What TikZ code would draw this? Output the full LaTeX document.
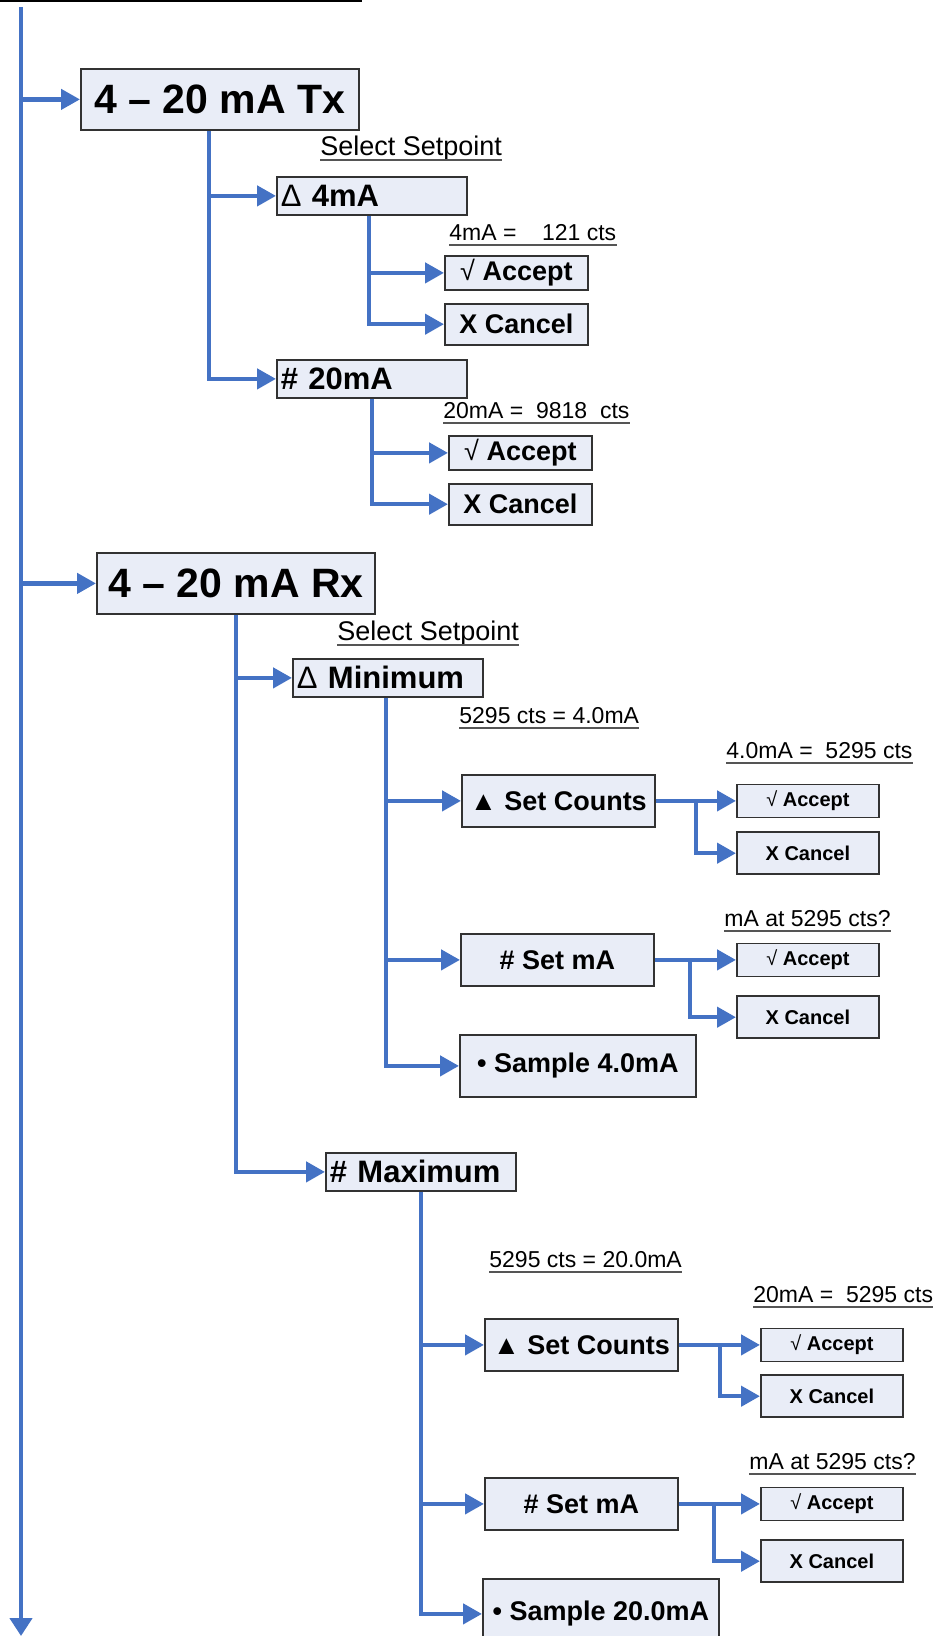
\documentclass[tikz,border=0pt]{standalone}
\usepackage{fontspec}
\setmainfont{Liberation Sans}
\usepackage{xcolor}
\usepackage{tikz}
\usetikzlibrary{arrows.meta,positioning}
\definecolor{flowblue}{RGB}{68,114,196}
\definecolor{menufill}{RGB}{233,237,247}
\definecolor{menuframe}{RGB}{50,50,50}
\definecolor{notegray}{RGB}{85,85,85}

\begin{document}
\begin{tikzpicture}[
  x=0.5pt, y=-0.5pt,
  >={Triangle[length=9.5pt,width=10pt]},
  menu/.style={draw=menuframe, line width=0.9pt, fill=menufill, inner sep=0pt, anchor=north west},
  mode/.style={menu, minimum width=139pt, minimum height=30.5pt, font=\fontsize{20.5}{23}\selectfont\bfseries},
  setpt/.style={menu, text width=91pt, inner xsep=2pt, minimum height=19pt, align=left,
                font=\fontsize{15.5}{18}\selectfont\bfseries},
  okbig/.style={menu, minimum width=71.5pt, minimum height=17pt, font=\fontsize{13.5}{16}\selectfont\bfseries},
  nobig/.style={okbig, minimum height=20.5pt},
  task/.style={menu, minimum width=96.5pt, minimum height=26pt, font=\fontsize{13.5}{16}\selectfont\bfseries},
  sample/.style={task, minimum width=118pt, minimum height=31pt},
  oksmall/.style={menu, minimum width=71pt, minimum height=16.5pt, font=\fontsize{10}{12}\selectfont\bfseries},
  nosmall/.style={oksmall, minimum height=21pt},
  note/.style={inner sep=0pt, text depth=2pt, anchor=south west, font=\fontsize{11.5}{14}\selectfont,
               append after command={(\tikzlastnode.south west) edge[draw=notegray, line width=1pt] (\tikzlastnode.south east)}},
  head/.style={note, font=\fontsize{13.5}{16}\selectfont},
  flow/.style={->, draw=flowblue, line width=2.2pt}]
\useasboundingbox (0,0) rectangle (935,1636);
\draw[line width=1pt] (0,1) -- (362,1);
\coordinate (start) at (21,7);
\coordinate (end) at (21,1636);

\node[mode] (tx) at (80,68) {4 – 20 mA Tx};
\node[setpt] (d4) at (276,176) {{\mdseries Δ} 4mA};
\node[head, above=8pt of d4.north west, anchor=south west, xshift=22pt] (sel1) {Select Setpoint};
\node[okbig] (ok1) at (444,255) {{\mdseries √} Accept};
\node[nobig, below=6pt of ok1.south west, anchor=north west] (no1) {X Cancel};
\node[note, above=5pt of ok1.north west, anchor=south west, xshift=2.5pt] (cts1) {4mA =\ \ \ \ 121 cts};
\node[setpt] (d20) at (276,359) {\# 20mA};
\node[okbig] (ok2) at (448,435) {{\mdseries √} Accept};
\node[nobig, below=6pt of ok2.south west, anchor=north west] (no2) {X Cancel};
\node[note, above=6pt of ok2.north west, anchor=south west, xshift=-2.5pt] (cts2) {20mA =\ \ 9818\ \ cts};

\node[mode] (rx) at (96,552) {4 – 20 mA Rx};
\node[setpt] (dmin) at (292,658) {{\mdseries Δ} Minimum};
\node[head, above=6.5pt of dmin.north west, anchor=south west, xshift=22.5pt] (sel2) {Select Setpoint};
\node[task] (sc1) at (461,774) {▲ Set Counts};
\node[note, above=23pt of sc1.north west, anchor=south west, xshift=-1pt] (raw1) {5295 cts = 4.0mA};
\node[oksmall] (ok3) at (736,783.5) {{\mdseries √} Accept};
\node[nosmall, below=6.5pt of ok3.south west, anchor=north west] (no3) {X Cancel};
\node[note, above=10.5pt of ok3.north west, anchor=south west, xshift=-5pt] (cts3) {4.0mA =\ \ 5295 cts};
\node[task] (sm1) at (460,933) {\# Set mA};
\node[oksmall] (ok4) at (736,942.5) {{\mdseries √} Accept};
\node[nosmall, below=9pt of ok4.south west, anchor=north west] (no4) {X Cancel};
\node[note, above=6pt of ok4.north west, anchor=south west, xshift=-6pt] (ask1) {mA at 5295 cts?};
\node[sample] (samp1) at (459,1034) {• Sample 4.0mA};

\node[setpt] (dmax) at (325,1152) {\# Maximum};
\node[task] (sc2) at (484,1318) {▲ Set Counts};
\node[note, above=23pt of sc2.north west, anchor=south west, xshift=2.5pt] (raw2) {5295 cts = 20.0mA};
\node[oksmall] (ok5) at (760,1327.5) {{\mdseries √} Accept};
\node[nosmall, below=6pt of ok5.south west, anchor=north west] (no5) {X Cancel};
\node[note, above=10.5pt of ok5.north west, anchor=south west, xshift=-3.5pt] (cts5) {20mA =\ \ 5295 cts};
\node[task] (sm2) at (484,1477) {\# Set mA};
\node[oksmall] (ok6) at (760,1486.5) {{\mdseries √} Accept};
\node[nosmall, below=9pt of ok6.south west, anchor=north west] (no6) {X Cancel};
\node[note, above=6.5pt of ok6.north west, anchor=south west, xshift=-5.5pt] (ask2) {mA at 5295 cts?};
\node[sample, minimum height=35pt] (samp2) at (482,1578) {• Sample 20.0mA};

\draw[flow, -{Triangle[length=9pt,width=11pt]}] (start) -- (end);
\draw[flow] (start |- tx.west) -- (tx.west);
\draw[flow] (start |- rx.west) -- (rx.west);
\draw[flow] ([xshift=-5.5pt]tx.south) |- (d4.west);
\draw[flow] ([xshift=-5.5pt]tx.south) |- (d20.west);
\draw[flow] ([xshift=-1.5pt]d4.south) |- (ok1.west);
\draw[flow] ([xshift=-1.5pt]d4.south) |- (no1.west);
\draw[flow] (d20.south) |- (ok2.west);
\draw[flow] (d20.south) |- (no2.west);
\draw[flow] (rx.south) |- (dmin.west);
\draw[flow] (rx.south) |- (dmax.west);
\draw[flow] ([xshift=-1pt]dmin.south) |- (sc1.west);
\draw[flow] ([xshift=-1pt]dmin.south) |- (sm1.west);
\draw[flow] ([xshift=-1pt]dmin.south) |- (samp1.west);
\draw[flow] (sc1.east) -- (ok3.west);
\draw[flow] ([xshift=20pt]sc1.east) |- (no3.west);
\draw[flow] (sm1.east) -- (ok4.west);
\draw[flow] ([xshift=17.5pt]sm1.east) |- (no4.west);
\draw[flow] (dmax.south) |- (sc2.west);
\draw[flow] (dmax.south) |- (sm2.west);
\draw[flow] (dmax.south) |- (samp2.west);
\draw[flow] (sc2.east) -- (ok5.west);
\draw[flow] ([xshift=20.5pt]sc2.east) |- (no5.west);
\draw[flow] (sm2.east) -- (ok6.west);
\draw[flow] ([xshift=17.5pt]sm2.east) |- (no6.west);
\end{tikzpicture}
\end{document}
